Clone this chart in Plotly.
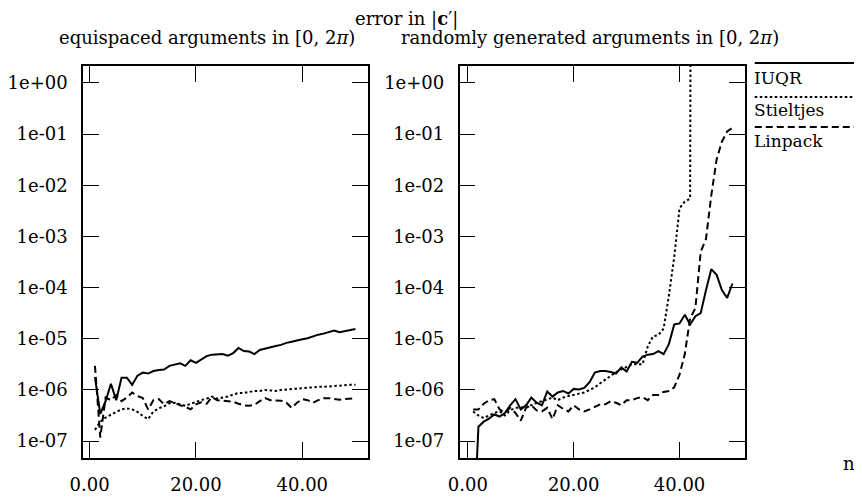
import plotly.graph_objects as go

# n values (number of arguments)
n = list(range(1, 51))

# ---- equispaced arguments: log10 of error in |c'| ----
iuqr_eq_log10 = [-5.75, -6.47, -6.22, -5.88, -6.2, -5.76, -5.76, -5.9, -5.72, -5.66,
                 -5.68, -5.63, -5.61, -5.6, -5.53, -5.5, -5.48, -5.53, -5.42, -5.47,
                 -5.4, -5.34, -5.31, -5.31, -5.3, -5.33, -5.28, -5.18, -5.24, -5.25,
                 -5.3, -5.22, -5.19, -5.17, -5.14, -5.12, -5.08, -5.06, -5.03, -5.01,
                 -4.99, -4.95, -4.92, -4.9, -4.87, -4.84, -4.87, -4.85, -4.83, -4.81]
stieltjes_eq_log10 = [-6.78, -6.62, -6.54, -6.48, -6.43, -6.38, -6.36, -6.38, -6.43, -6.51,
                      -6.57, -6.42, -6.36, -6.32, -6.26, -6.25, -6.28, -6.31, -6.27, -6.23,
                      -6.2, -6.17, -6.13, -6.17, -6.15, -6.13, -6.09, -6.06, -6.06, -6.04,
                      -6.02, -6.02, -6.0, -6.01, -6.02, -6.0, -5.99, -5.99, -5.98, -5.97,
                      -5.95, -5.95, -5.94, -5.94, -5.93, -5.92, -5.91, -5.91, -5.9, -5.9]
linpack_eq_log10 = [-5.53, -6.93, -6.15, -6.2, -6.1, -6.22, -6.15, -6.05, -6.12, -6.16,
                    -6.38, -6.2, -6.18, -6.28, -6.22, -6.25, -6.3, -6.33, -6.38, -6.28,
                    -6.24, -6.27, -6.14, -6.2, -6.21, -6.22, -6.23, -6.27, -6.3, -6.31,
                    -6.29, -6.22, -6.16, -6.2, -6.2, -6.21, -6.25, -6.35, -6.25, -6.18,
                    -6.2, -6.25, -6.2, -6.16, -6.16, -6.17, -6.19, -6.18, -6.17, -6.16]

# ---- randomly generated arguments: log10 of error in |c'| ----
iuqr_rand_log10 = [-9.0, -6.72, -6.62, -6.56, -6.48, -6.52, -6.45, -6.3, -6.18, -6.38,
                   -6.3, -6.15, -6.25, -6.3, -6.03, -6.13, -6.05, -6.02, -6.07, -5.98,
                   -5.99, -5.96, -5.85, -5.66, -5.63, -5.63, -5.65, -5.68, -5.56, -5.64,
                   -5.45, -5.47, -5.35, -5.31, -5.3, -5.24, -5.3, -5.1, -4.72, -4.7,
                   -4.53, -4.72, -4.56, -4.5, -4.05, -3.64, -3.75, -4.05, -4.2, -3.92]
stieltjes_rand_log10 = [-6.42, -6.5, -6.55, -6.5, -6.45, -6.42, -6.5, -6.4, -6.35, -6.35,
                        -6.3, -6.3, -6.25, -6.22, -6.18, -6.15, -6.2, -6.15, -6.12, -6.1,
                        -6.08, -6.05, -6.0, -5.95, -5.87, -5.8, -5.72, -5.65, -5.6, -5.55,
                        -5.5, -5.5, -5.5, -5.15, -4.95, -4.93, -4.8, -4.15, -3.4, -2.45,
                        -2.32, -2.26, 40.0, None, None, None, None, None, None, None]
linpack_rand_log10 = [-6.38, -6.38, -6.27, -6.2, -6.18, -6.38, -6.45, -6.35, -6.45, -6.6,
                      -6.35, -6.3, -6.4, -6.42, -6.35, -6.57, -6.3, -6.37, -6.42, -6.3,
                      -6.38, -6.42, -6.38, -6.33, -6.28, -6.28, -6.22, -6.25, -6.3, -6.2,
                      -6.2, -6.16, -6.14, -6.2, -6.1, -6.1, -6.04, -6.02, -5.95, -5.7,
                      -5.3, -4.6, -4.4, -3.3, -3.05, -2.2, -1.5, -1.15, -0.95, -0.88]

series_names = ["IUQR", "Stieltjes", "Linpack"]
x_ticks = [0, 20, 40]
x_ticktext = ["0.00", "20.00", "40.00"]
y_ticks = [1e-7, 1e-6, 1e-5, 1e-4, 1e-3, 1e-2, 1e-1, 1e0]
y_ticktext = ["1e-07", "1e-06", "1e-05", "1e-04", "1e-03", "1e-02", "1e-01", "1e+00"]


def to_val(arr):
    return [None if v is None else 10 ** v for v in arr]


styles = {"IUQR": "solid", "Stieltjes": "2.5px,2.5px", "Linpack": "7px,4px"}

fig = go.Figure()
panels = [
    ("x", "y", [iuqr_eq_log10, stieltjes_eq_log10, linpack_eq_log10]),
    ("x2", "y2", [iuqr_rand_log10, stieltjes_rand_log10, linpack_rand_log10]),
]
for xa, ya, data in panels:
    for name, arr in zip(series_names, data):
        fig.add_trace(go.Scatter(
            x=n, y=to_val(arr), mode="lines", name=name, showlegend=False,
            xaxis=xa, yaxis=ya, connectgaps=False,
            line=dict(color="black", width=2, dash=styles[name]),
        ))

W, H = 862, 498
OFF = 8  # page body margin


def X(px):
    return (px - OFF) / W


def Y(py):
    return 1 - (py - OFF) / H


FONT = "DejaVu Serif"
tick_font = dict(family=FONT, size=18, color="black")
common = dict(showline=True, linecolor="black", linewidth=1.5, mirror="ticks",
              ticks="inside", ticklen=16, tickwidth=1.2, tickcolor="black",
              showgrid=False, zeroline=False, tickfont=tick_font)

ydom = [Y(458), Y(66)]
fig.update_layout(
    width=W, height=H, margin=dict(l=0, r=0, t=0, b=0),
    paper_bgcolor="white", plot_bgcolor="white",
    xaxis=dict(domain=[X(71), X(360)], range=[-1.24, 52.3], anchor="y",
               tickvals=x_ticks, ticktext=x_ticktext, ticklabelstandoff=10, **common),
    yaxis=dict(domain=ydom, type="log", range=[-7.33, 0.33], anchor="x",
               tickvals=y_ticks, ticktext=y_ticktext, ticklabelstandoff=10, **common),
    xaxis2=dict(domain=[X(453.3), X(742.7)], range=[-1.56, 52.3], anchor="y2",
                tickvals=x_ticks, ticktext=x_ticktext, ticklabelstandoff=10, **common),
    yaxis2=dict(domain=ydom, type="log", range=[-7.33, 0.33], anchor="x2",
                tickvals=y_ticks, ticktext=y_ticktext, ticklabelstandoff=10, **common),
)

title_font = dict(family=FONT, size=18, color="black")


def px_ann(x, y, text, font, xanchor="center"):
    fig.add_annotation(x=X(x), y=Y(y), xref="paper", yref="paper", text=text,
                       showarrow=False, font=font, xanchor=xanchor, yanchor="middle")


px_ann(399, 19, "error in |<b>c</b>′|", title_font)
px_ann(197, 38, "equispaced arguments in [0, 2<i>π</i>)", title_font)
px_ann(586, 38, "randomly generated arguments in [0, 2<i>π</i>)", title_font)
px_ann(849, 463, "n", tick_font)

# legend (lines above labels, drawn at right edge)
leg_font = dict(family=FONT, size=17, color="black")
leg_rows = [(63, 78), (97, 110), (127, 141)]
for name, (ly, ty) in zip(series_names, leg_rows):
    fig.add_shape(type="line", xref="paper", yref="paper", x0=X(753), x1=1.0,
                  y0=Y(ly), y1=Y(ly),
                  line=dict(color="black", width=2, dash=styles[name]))
    px_ann(750, ty, name, leg_font, xanchor="left")

fig.write_html("out.html")
